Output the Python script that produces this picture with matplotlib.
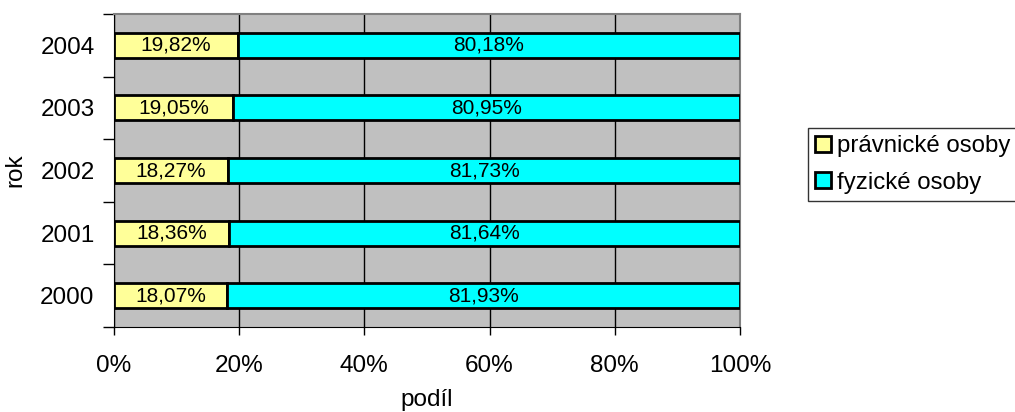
import matplotlib.pyplot as plt
from matplotlib.patches import Patch

# ---------- DATA ----------
years = ["2000", "2001", "2002", "2003", "2004"]
pravnicke = [18.07, 18.36, 18.27, 19.05, 19.82]
fyzicke = [81.93, 81.64, 81.73, 80.95, 80.18]
series_names = ["právnické osoby", "fyzické osoby"]
x_ticks = [0, 20, 40, 60, 80, 100]

plt.rcParams["font.family"] = ["Liberation Sans", "DejaVu Sans"]

fig = plt.figure(figsize=(10.15, 4.12), dpi=100)
ax = fig.add_axes([0.1123, 0.2063, 0.6167, 0.7597])
ax.set_facecolor("#C0C0C0")

pos = list(range(len(years)))
b1 = ax.barh(pos, pravnicke, height=0.4, color="#FFFF99", edgecolor="black", linewidth=2, zorder=3)
b2 = ax.barh(pos, fyzicke, left=pravnicke, height=0.4, color="#00FFFF", edgecolor="black", linewidth=2, zorder=3)

fmt = lambda v: f"{v:.2f}".replace(".", ",") + "%"
ax.bar_label(b1, labels=[fmt(v) for v in pravnicke], label_type="center", fontsize=15, zorder=4)
ax.bar_label(b2, labels=[fmt(v) for v in fyzicke], label_type="center", fontsize=15, zorder=4)

ax.set_xlim(0, 100)
ax.set_ylim(-0.5, len(years) - 0.5)

ax.set_xticks(x_ticks)
ax.set_xticklabels([f"{t}%" for t in x_ticks], fontsize=17.5)
ax.tick_params(axis="x", length=6, width=1, pad=14)
ax.grid(axis="x", color="black", linewidth=1, zorder=1)

# category boundaries get ticks, labels sit between them
ax.set_yticks([p - 0.5 for p in pos] + [len(years) - 0.5])
ax.set_yticklabels([])
ax.set_yticks(pos, minor=True)
ax.set_yticklabels(years, minor=True, fontsize=17.5)
ax.tick_params(axis="y", which="major", length=8, width=1)
ax.tick_params(axis="y", which="minor", length=0, pad=14)

for s in ["left", "bottom"]:
    ax.spines[s].set_color("black")
for s in ["right", "top"]:
    ax.spines[s].set_color("#808080")
    ax.spines[s].set_linewidth(1.5)

ax.set_xlabel("podíl", fontsize=17.5, labelpad=9)
ax.set_ylabel("rok", fontsize=17.5, labelpad=10)

handles = [Patch(facecolor="#FFFF99", edgecolor="black", linewidth=2),
           Patch(facecolor="#00FFFF", edgecolor="black", linewidth=2)]
leg = fig.legend(handles, series_names, loc="upper left", bbox_to_anchor=(808 / 1015, 1 - 128 / 412),
                 fontsize=17.3, frameon=True, fancybox=False, edgecolor="black",
                 handlelength=0.65, handleheight=0.65, handletextpad=0.25,
                 borderpad=0.3, labelspacing=0.6, borderaxespad=0)
leg.get_frame().set_linewidth(1)

fig.savefig("out.png", dpi=100)
